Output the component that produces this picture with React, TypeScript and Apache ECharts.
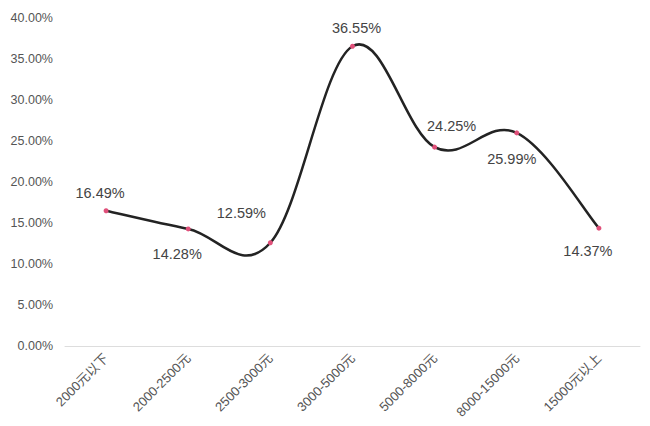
import React, { useEffect, useRef } from "react";
import * as echarts from "echarts";

const categories = ["2000元以下", "2000-2500元", "2500-3000元", "3000-5000元", "5000-8000元", "8000-15000元", "15000元以上"];
const values = [16.49, 14.28, 12.59, 36.55, 24.25, 25.99, 14.37];
const labelOffsets = [[-6, -18], [-11, 25], [-29, -30], [4, -18], [17, -21], [-5, 26], [-11, 23]];

const FONT = "'Liberation Sans', 'Noto Sans CJK SC', Arial, sans-serif";
const TENSION = 1 / 5.5;

export default function App() {
  const ref = useRef<HTMLDivElement>(null);
  useEffect(() => {
    if (!ref.current) return;
    const chart = echarts.init(ref.current, null, { renderer: "svg" });
    const n = values.length;
    chart.setOption({
      animation: false,
      backgroundColor: "#ffffff",
      grid: { left: 65, right: 10, top: 18, bottom: 80 },
      xAxis: {
        type: "category",
        data: categories,
        boundaryGap: true,
        axisLine: { lineStyle: { color: "#dddddd", width: 1 } },
        axisTick: { show: false },
        axisLabel: { rotate: 45, color: "#555555", fontSize: 13, fontFamily: FONT, margin: 10, interval: 0 },
      },
      yAxis: {
        type: "value",
        min: 0,
        max: 40,
        interval: 5,
        axisLine: { show: false },
        axisTick: { show: false },
        splitLine: { show: false },
        axisLabel: {
          color: "#555555",
          fontSize: 12.5,
          fontFamily: FONT,
          margin: 12,
          formatter: (v: number) => v.toFixed(2) + "%",
        },
      },
      series: [
        {
          type: "custom",
          data: values.map((v, i) => [i, v]),
          encode: { x: 0, y: 1 },
          z: 1,
          silent: true,
          renderItem: (params: any, api: any) => {
            const i = params.dataIndex;
            if (i >= n - 1) return null;
            const pt = (j: number) => {
              const k = Math.max(0, Math.min(n - 1, j));
              return api.coord([k, values[k]]);
            };
            const p0 = pt(i - 1);
            const p1 = pt(i);
            const p2 = pt(i + 1);
            const p3 = pt(i + 2);
            return {
              type: "bezierCurve",
              shape: {
                x1: p1[0],
                y1: p1[1],
                cpx1: p1[0] + (p2[0] - p0[0]) * TENSION,
                cpy1: p1[1] + (p2[1] - p0[1]) * TENSION,
                cpx2: p2[0] - (p3[0] - p1[0]) * TENSION,
                cpy2: p2[1] - (p3[1] - p1[1]) * TENSION,
                x2: p2[0],
                y2: p2[1],
              },
              style: { stroke: "#232323", lineWidth: 2.5, fill: "none" },
            };
          },
        },
        {
          type: "line",
          data: values.map((v, i) => ({
            value: v,
            label: { offset: labelOffsets[i] },
          })),
          symbol: "circle",
          symbolSize: 5,
          itemStyle: { color: "#e0507a" },
          lineStyle: { width: 0, opacity: 0 },
          z: 3,
          label: {
            show: true,
            position: "inside",
            color: "#444444",
            fontSize: 14.5,
            fontFamily: FONT,
            formatter: (p: any) => p.value.toFixed(2) + "%",
          },
        },
      ],
    });
    return () => chart.dispose();
  }, []);
  return <div ref={ref} style={{ position: "fixed", left: 0, top: 0, width: 650, height: 426 }} />;
}
